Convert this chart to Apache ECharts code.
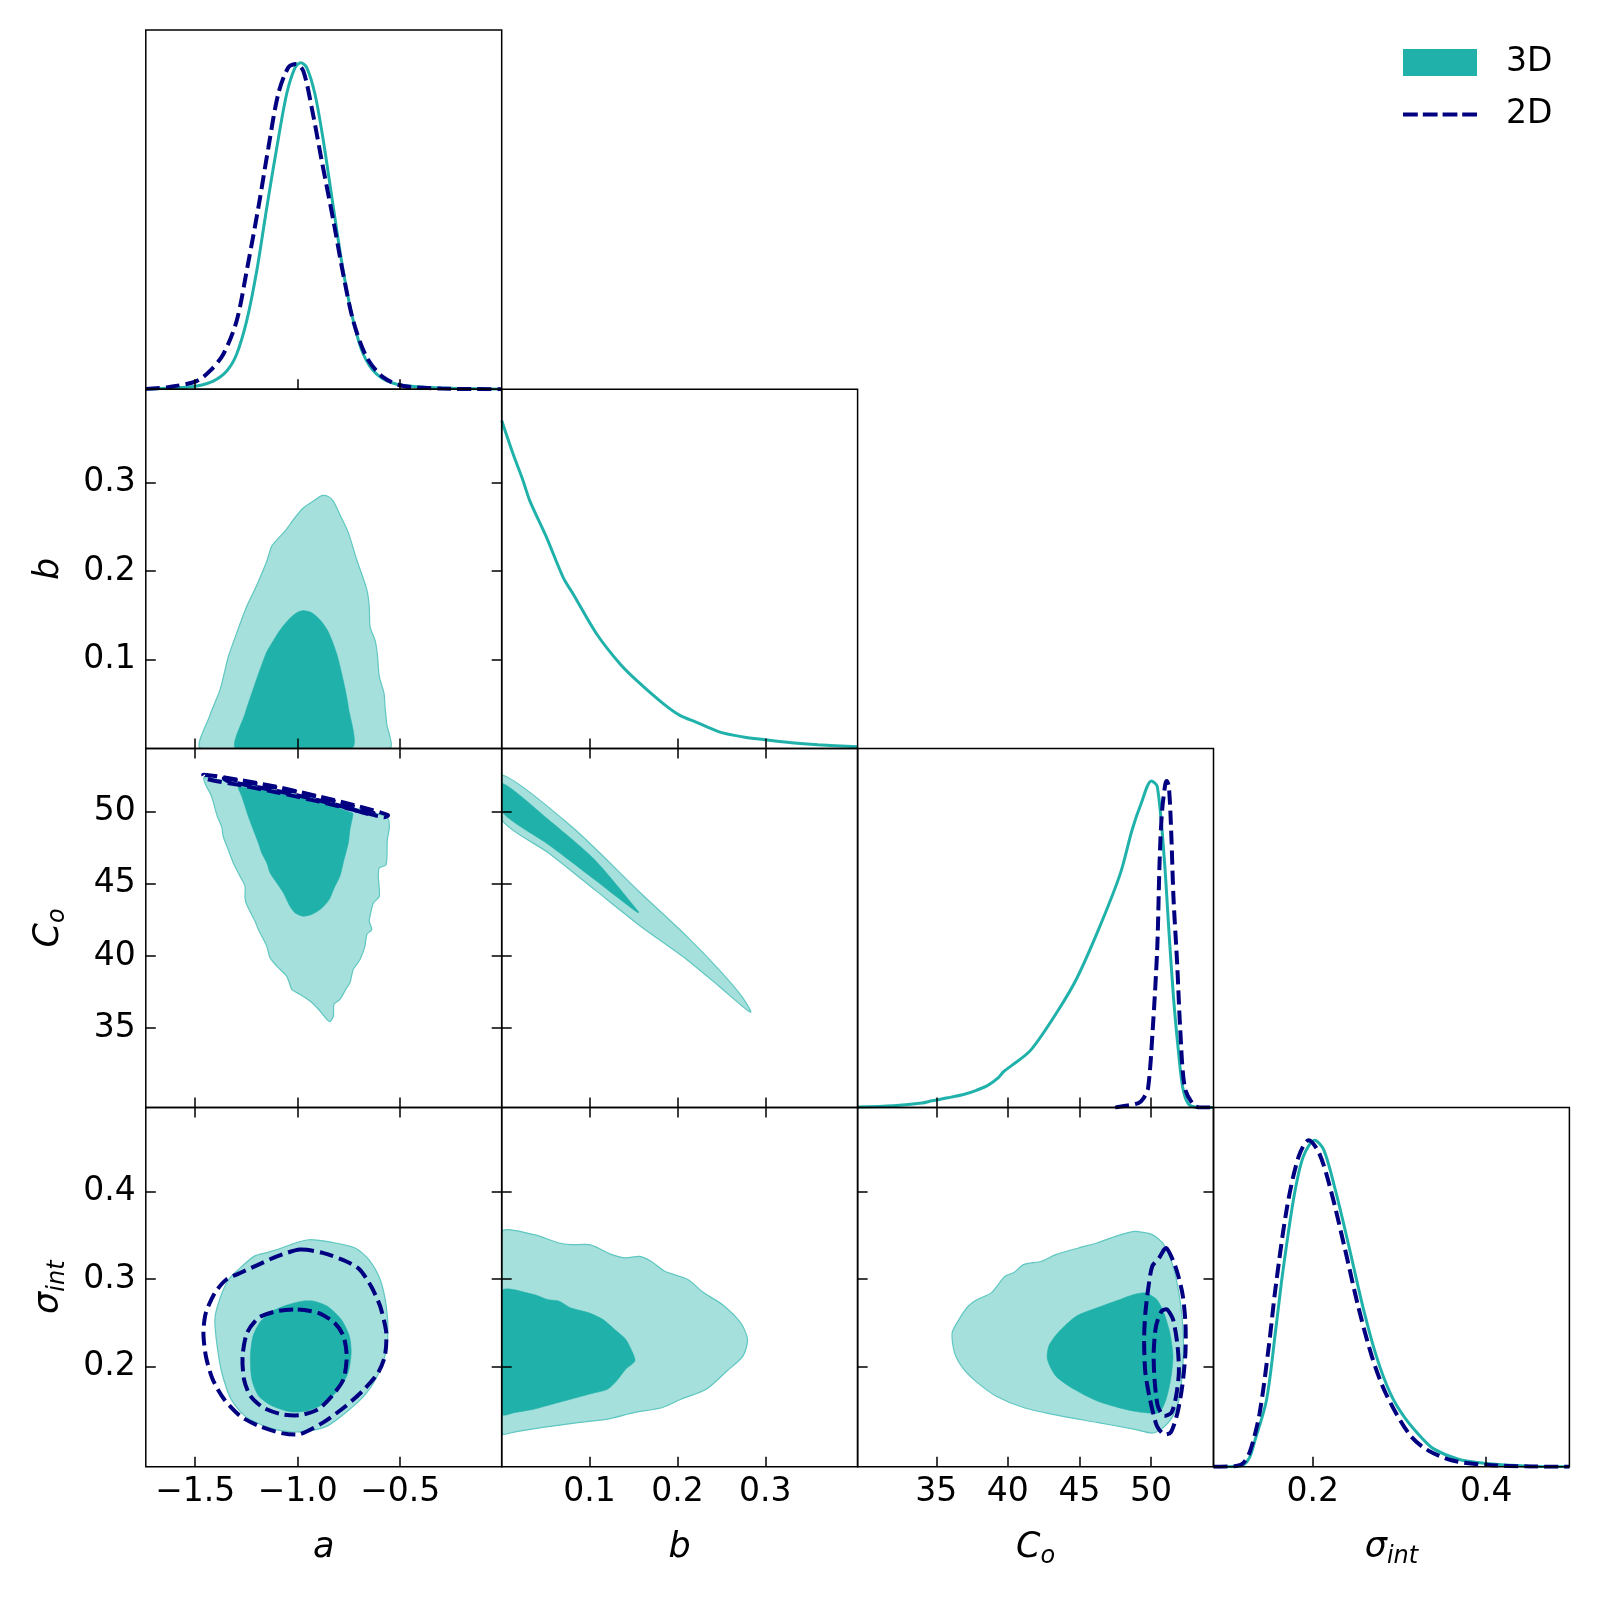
<!DOCTYPE html>
<html><head><meta charset="utf-8">
<script src="https://cdn.jsdelivr.net/npm/echarts@6/dist/echarts.min.js"></script>
<style>html,body{margin:0;padding:0;background:#fff}#c{width:1600px;height:1600px}</style>
</head><body><div id="c"></div>
<script>
// ---------- tick labels ----------
const aTicks = [-1.5, -1.0, -0.5];
const bTicks = [0.1, 0.2, 0.3];
const cTicks = [35, 40, 45, 50];
const sTicksX = [0.2, 0.4];
const sTicksY = [0.2, 0.3, 0.4];

// ---------- 1D marginals (normalised to peak = 1) ----------
const margA3D = [[-1.741,0],[-1.574,0.005],[-1.493,0.010],[-1.412,0.025],[-1.346,0.056],[-1.298,0.107],[-1.249,0.209],[-1.2,0.362],[-1.151,0.556],[-1.102,0.740],[-1.054,0.904],[-1.013,0.985],[-0.985,1.0],[-0.956,0.985],[-0.916,0.904],[-0.875,0.761],[-0.826,0.556],[-0.778,0.362],[-0.729,0.209],[-0.680,0.107],[-0.615,0.046],[-0.517,0.015],[-0.355,0.005],[-0.005,0]];
const margA2D = [[-1.741,0.001],[-1.623,0.007],[-1.493,0.025],[-1.428,0.056],[-1.363,0.107],[-1.298,0.209],[-1.249,0.362],[-1.192,0.556],[-1.143,0.740],[-1.095,0.904],[-1.046,0.985],[-1.008,0.996],[-0.973,0.975],[-0.932,0.863],[-0.883,0.70],[-0.826,0.516],[-0.778,0.352],[-0.729,0.209],[-0.663,0.097],[-0.582,0.036],[-0.485,0.010],[-0.3,0.002],[-0.005,0]];
const margB3D = [[0,1.004],[0.0129,0.902],[0.0243,0.820],[0.0319,0.759],[0.0509,0.647],[0.0699,0.524],[0.0813,0.473],[0.1079,0.351],[0.1345,0.259],[0.1535,0.208],[0.1838,0.137],[0.2028,0.101],[0.2218,0.080],[0.2484,0.050],[0.275,0.035],[0.2978,0.027],[0.33,0.017],[0.36,0.011],[0.405,0.005]];
const margC3D = [[29.5,0.002],[32,0.006],[34,0.014],[34.7,0.021],[35.8,0.03],[36.9,0.04],[37.8,0.053],[38.6,0.068],[39.3,0.09],[39.7,0.11],[40.3,0.13],[41.6,0.176],[43.53,0.299],[44.82,0.396],[46.42,0.554],[47.87,0.718],[48.68,0.85],[49.32,0.932],[50.03,1.0],[50.44,0.983],[50.92,0.768],[51.25,0.544],[51.57,0.34],[51.89,0.186],[52.21,0.064],[52.6,0.012],[53.2,0.001],[54.37,0]];
const margC2D = [[47.5,0],[47.84,0.003],[49.12,0.014],[49.5,0.03],[49.8,0.06],[50.12,0.237],[50.44,0.49],[50.6,0.749],[50.76,0.90],[50.99,0.988],[51.1,1.0],[51.25,0.983],[51.41,0.85],[51.57,0.646],[51.83,0.442],[52.05,0.237],[52.37,0.06],[52.99,0.008],[53.5,0],[54.37,0]];
const margS3D = [[0.0855,0],[0.11,0.001],[0.12,0.006],[0.127,0.028],[0.1333,0.081],[0.1466,0.204],[0.1572,0.418],[0.1652,0.592],[0.1783,0.827],[0.1889,0.949],[0.2022,1.0],[0.2128,0.97],[0.2261,0.847],[0.2419,0.673],[0.2578,0.49],[0.2737,0.336],[0.2896,0.224],[0.3054,0.153],[0.3266,0.086],[0.340,0.054],[0.368,0.023],[0.40,0.01],[0.45,0.002],[0.496,0]];
const margS2D = [[0.0855,0],[0.11,0.002],[0.12,0.012],[0.128,0.05],[0.1386,0.163],[0.1492,0.367],[0.1572,0.551],[0.1704,0.796],[0.1836,0.949],[0.1953,1.0],[0.2075,0.96],[0.2208,0.847],[0.2366,0.673],[0.2525,0.49],[0.2684,0.336],[0.2843,0.224],[0.3107,0.102],[0.33,0.055],[0.36,0.02],[0.40,0.006],[0.45,0.001],[0.496,0]];

// ---------- 2D contours (outer = 95%, inner = 68%) ----------
const ab3D95 = [[-1.472,0],[-1.428,0.0375],[-1.379,0.066],[-1.355,0.088],[-1.339,0.103],[-1.298,0.130],[-1.249,0.160],[-1.200,0.184],[-1.151,0.211],[-1.127,0.228],[-1.102,0.235],[-1.062,0.245],[-1.021,0.258],[-0.973,0.271],[-0.916,0.280],[-0.883,0.285],[-0.851,0.284],[-0.826,0.2785],[-0.794,0.2635],[-0.753,0.243],[-0.712,0.2127],[-0.663,0.179],[-0.651,0.160],[-0.647,0.137],[-0.623,0.122],[-0.612,0.107],[-0.607,0.092],[-0.602,0.081],[-0.579,0.062],[-0.574,0.047],[-0.566,0.028],[-0.553,0]];
const ab3D68 = [[-1.301,0],[-1.257,0.0394],[-1.208,0.0733],[-1.176,0.094],[-1.151,0.109],[-1.127,0.1185],[-1.086,0.1336],[-1.038,0.1468],[-1.005,0.153],[-0.973,0.1554],[-0.932,0.153],[-0.891,0.145],[-0.851,0.1316],[-0.810,0.107],[-0.778,0.077],[-0.753,0.047],[-0.737,0]];

const ac3D95 = [[-1.457,52.35],[-1.3,51.98],[-1.1,51.45],[-0.9,50.85],[-0.7,50.15],[-0.566,49.62],[-0.553,48.96],[-0.563,48.05],[-0.569,46.32],[-0.602,46.09],[-0.607,45.51],[-0.602,44.13],[-0.631,43.67],[-0.644,42.98],[-0.651,42.40],[-0.639,41.83],[-0.663,41.48],[-0.672,40.68],[-0.696,39.76],[-0.729,39.07],[-0.745,38.15],[-0.761,37.80],[-0.794,37.0],[-0.823,36.65],[-0.826,35.84],[-0.842,35.46],[-0.859,35.62],[-0.891,36.19],[-0.940,36.88],[-0.989,37.34],[-1.029,37.69],[-1.041,38.15],[-1.054,38.60],[-1.102,39.30],[-1.135,39.88],[-1.151,40.68],[-1.192,41.83],[-1.208,42.40],[-1.249,43.56],[-1.257,44.02],[-1.257,44.82],[-1.281,45.51],[-1.314,46.44],[-1.339,47.36],[-1.363,48.27],[-1.371,48.96],[-1.392,49.65],[-1.420,51.04],[-1.452,51.96]];
const ac3D68 = [[-1.290,51.73],[-1.086,51.27],[-0.907,50.69],[-0.732,49.89],[-0.732,49.65],[-0.745,48.74],[-0.753,47.82],[-0.778,46.44],[-0.794,45.51],[-0.818,44.82],[-0.842,44.02],[-0.859,43.67],[-0.891,43.21],[-0.932,42.87],[-0.973,42.75],[-1.013,42.98],[-1.038,43.44],[-1.070,44.36],[-1.102,45.05],[-1.135,45.75],[-1.151,46.44],[-1.176,47.13],[-1.192,47.82],[-1.217,48.74],[-1.241,49.65],[-1.257,50.35],[-1.273,51.04],[-1.290,51.62]];
const ac2D95 = [[-1.46,52.55],[-1.3,52.22],[-1.1,51.7],[-0.9,51.05],[-0.7,50.35],[-0.56,49.75],[-0.58,49.6],[-0.7,50.02],[-0.9,50.7],[-1.1,51.32],[-1.3,51.88],[-1.44,52.24]];
const ac2D68 = [[-1.36,52.3],[-1.2,51.9],[-1.0,51.35],[-0.8,50.62],[-0.63,49.9],[-0.65,49.8],[-0.8,50.42],[-1.0,51.12],[-1.2,51.7],[-1.34,52.1]];

const bc3D95 = [[0,52.53],[0.0795,48.96],[0.158,44.36],[0.2104,41.37],[0.247,39.07],[0.273,37.22],[0.2836,36.12],[0.2758,36.42],[0.247,37.92],[0.2104,39.76],[0.158,42.06],[0.1058,44.59],[0.0534,47.13],[0,49.43]];
const bc3D68 = [[0,51.96],[0.0534,49.43],[0.1058,46.66],[0.1554,43.09],[0.1554,42.98],[0.1423,43.56],[0.1058,45.28],[0.0534,47.70],[0,50.0]];

const as3D95 = [[-0.944,0.345],[-0.833,0.342],[-0.720,0.3356],[-0.653,0.3223],[-0.598,0.2995],[-0.568,0.269],[-0.560,0.2387],[-0.575,0.212],[-0.620,0.1855],[-0.676,0.1665],[-0.765,0.1476],[-0.855,0.1323],[-0.944,0.1266],[-1.034,0.1255],[-1.146,0.1305],[-1.258,0.1437],[-1.325,0.1627],[-1.370,0.193],[-1.393,0.2235],[-1.404,0.254],[-1.381,0.2767],[-1.337,0.2995],[-1.280,0.3128],[-1.213,0.326],[-1.146,0.3306],[-1.079,0.3356],[-1.012,0.3413]];
const as3D68 = [[-0.978,0.2748],[-0.922,0.2748],[-0.855,0.269],[-0.788,0.254],[-0.748,0.235],[-0.739,0.216],[-0.754,0.193],[-0.799,0.174],[-0.877,0.157],[-0.956,0.1494],[-1.034,0.1483],[-1.124,0.155],[-1.191,0.1665],[-1.224,0.1855],[-1.231,0.212],[-1.218,0.235],[-1.180,0.252],[-1.124,0.2634],[-1.045,0.271]];
const as2D95 = [[-0.989,0.3337],[-0.878,0.330],[-0.765,0.3204],[-0.698,0.311],[-0.642,0.2918],[-0.598,0.269],[-0.568,0.2387],[-0.575,0.212],[-0.608,0.193],[-0.676,0.174],[-0.765,0.155],[-0.877,0.136],[-0.989,0.1228],[-1.079,0.124],[-1.191,0.1323],[-1.281,0.1437],[-1.359,0.1627],[-1.415,0.1855],[-1.448,0.212],[-1.460,0.2387],[-1.448,0.2615],[-1.404,0.2843],[-1.348,0.2995],[-1.281,0.307],[-1.191,0.3166],[-1.101,0.326]];
const as2D68 = [[-1.000,0.2653],[-0.900,0.2615],[-0.821,0.2501],[-0.777,0.235],[-0.761,0.212],[-0.777,0.1855],[-0.833,0.1665],[-0.900,0.1513],[-0.989,0.1445],[-1.079,0.1456],[-1.169,0.1533],[-1.231,0.1665],[-1.262,0.1855],[-1.269,0.212],[-1.247,0.2387],[-1.191,0.2558],[-1.101,0.2634]];

const bs3D95 = [[0,0.3534],[0.0365,0.3508],[0.0653,0.3413],[0.0784,0.3394],[0.0993,0.3394],[0.1097,0.3356],[0.1254,0.328],[0.1412,0.3242],[0.1568,0.326],[0.170,0.3204],[0.1856,0.309],[0.2118,0.2995],[0.230,0.2843],[0.251,0.271],[0.272,0.250],[0.2798,0.2311],[0.2745,0.212],[0.2563,0.195],[0.2327,0.174],[0.204,0.1627],[0.183,0.1533],[0.1516,0.1476],[0.1202,0.140],[0.0889,0.1362],[0.047,0.1305],[0.0156,0.1255],[0,0.124]];
const bs3D68 = [[0,0.2862],[0.0365,0.2824],[0.0522,0.2767],[0.0653,0.2748],[0.0784,0.2672],[0.0993,0.2615],[0.115,0.254],[0.1307,0.2406],[0.1412,0.2311],[0.149,0.216],[0.1516,0.2064],[0.1412,0.197],[0.1307,0.1836],[0.1202,0.174],[0.0993,0.1684],[0.0784,0.1627],[0.0574,0.157],[0.0365,0.1513],[0.0156,0.1476],[0,0.1456]];

const cs3D95 = [[48.96,0.3545],[50.09,0.3508],[50.90,0.3394],[51.54,0.3147],[51.95,0.2843],[52.19,0.254],[52.28,0.2235],[52.19,0.193],[52.02,0.1665],[51.54,0.1437],[50.74,0.1286],[50.09,0.124],[48.80,0.1286],[46.23,0.1362],[43.66,0.1437],[41.09,0.1533],[39.16,0.1665],[37.87,0.1817],[36.91,0.197],[36.27,0.216],[36.11,0.2387],[36.59,0.254],[37.23,0.269],[37.87,0.2767],[38.84,0.2843],[39.80,0.3032],[40.45,0.3078],[41.09,0.3166],[42.37,0.3204],[43.34,0.328],[44.94,0.3356],[46.23,0.3413],[47.52,0.3489],[48.48,0.3534]];
const cs3D68 = [[49.61,0.2843],[50.41,0.2767],[50.90,0.2615],[51.32,0.2387],[51.54,0.212],[51.38,0.1855],[51.06,0.1627],[50.57,0.1476],[49.45,0.1476],[48.17,0.1513],[46.23,0.1608],[44.63,0.174],[43.34,0.1893],[42.76,0.2083],[42.86,0.2235],[43.50,0.2387],[44.79,0.2577],[46.23,0.2672],[47.84,0.2767],[48.80,0.2824]];
const cs2D95 = [[51.06,0.3356],[51.70,0.3147],[52.19,0.2843],[52.41,0.250],[52.41,0.216],[52.19,0.178],[51.86,0.1476],[51.38,0.1248],[50.90,0.1228],[50.41,0.1323],[49.93,0.1627],[49.61,0.193],[49.52,0.2311],[49.61,0.2615],[49.83,0.2918],[50.09,0.3147],[50.57,0.3242]];
const cs2D68 = [[51.12,0.2653],[51.54,0.254],[51.86,0.2235],[51.95,0.193],[51.76,0.1665],[51.44,0.1476],[50.90,0.1437],[50.48,0.155],[50.25,0.1855],[50.19,0.216],[50.35,0.246],[50.74,0.2634]];

// ---------- build ----------
const GL = 145.8, GW = 355.9, GT = 30, GH = 359.2;
const FONT = 'DejaVu Sans';
const TEAL = '#20b2aa', LIGHT = '#a6e0dd', EDGE = '#5fc7c0', NAVY = '#000080';
const fmtA = v => (v < 0 ? '\u2212' : '') + Math.abs(v).toFixed(1);
const vars = {
  a: { range: [-1.741, -0.005], xt: aTicks, yt: null, fmt: fmtA, name: '{i|a}' },
  b: { range: [0, 0.405], xt: bTicks, yt: bTicks, fmt: v => v.toFixed(1), name: '{i|b}' },
  c: { range: [29.5, 54.37], xt: cTicks, yt: cTicks, fmt: v => String(v), name: '{i|C}{sub|o}' },
  s: { range: [0.0855, 0.496], xt: sTicksX, yt: sTicksY, fmt: v => v.toFixed(1), name: '{i|\u03c3}{sub|int}' }
};
const order = ['a', 'b', 'c', 's'];
const nameRich = {
  i: { fontFamily: FONT, fontStyle: 'italic', fontSize: 35, lineHeight: 42, verticalAlign: 'middle', color: '#000' },
  sub: { fontFamily: FONT, fontStyle: 'italic', fontSize: 24, lineHeight: 24, verticalAlign: 'bottom', color: '#000' }
};
const tickStyle = ticks => ({ show: true, inside: true, length: 10, customValues: ticks, lineStyle: { color: '#000', width: 1.5 } });
function axisCommon(g, v, ticks, pos, labels, gap) {
  return {
    type: 'value', gridIndex: g, position: pos, min: v.range[0], max: v.range[1], z: 5,
    axisLine: { show: false }, splitLine: { show: false },
    axisTick: tickStyle(ticks),
    axisLabel: { show: labels, customValues: ticks, formatter: v.fmt, margin: pos === 'bottom' ? 9 : 10, fontSize: 33, fontFamily: FONT, color: '#000' },
    name: labels ? v.name : '', nameLocation: 'middle', nameGap: gap,
    nameTextStyle: { verticalAlign: 'middle', align: 'center', rich: nameRich }
  };
}
const grids = [], xAxes = [], yAxes = [], series = [];
const P = {};
for (let r = 0; r < 4; r++) {
  for (let c = 0; c <= r; c++) {
    const g = grids.length;
    grids.push({ left: GL + c * GW, top: GT + r * GH, width: GW, height: GH, show: true, borderColor: '#000', borderWidth: 1.5, z: 5, outerBoundsMode: 'none', containLabel: false });
    const xv = vars[order[c]];
    const xi = xAxes.length;
    xAxes.push(axisCommon(g, xv, xv.xt, 'bottom', r === 3, 81));
    if (c < r) xAxes.push(axisCommon(g, xv, xv.xt, 'top', false, 0));
    const yi = yAxes.length;
    if (c === r) {
      yAxes.push({ type: 'value', gridIndex: g, min: 0, max: 1.1, show: false });
    } else {
      const yv = vars[order[r]];
      yAxes.push(axisCommon(g, yv, yv.yt, 'left', c === 0, 97));
      yAxes.push(axisCommon(g, yv, yv.yt, 'right', false, 0));
    }
    P[r + '_' + c] = { xi, yi };
  }
}
function polyRender(points, style) {
  return function (params, api) {
    if (params.dataIndex !== 0) return null;
    const cs = params.coordSys;
    return {
      type: 'polygon',
      shape: { points: points.map(p => api.coord(p)), smooth: 0.25 },
      style: style,
      clipPath: { type: 'rect', shape: { x: cs.x, y: cs.y, width: cs.width, height: cs.height } }
    };
  };
}
function addFill(key, pts, inner) {
  series.push({
    type: 'custom', name: '3D', xAxisIndex: P[key].xi, yAxisIndex: P[key].yi, data: pts, silent: true,
    itemStyle: { color: TEAL },
    renderItem: polyRender(pts, inner ? { fill: TEAL, stroke: TEAL, lineWidth: 0.5 } : { fill: LIGHT, stroke: EDGE, lineWidth: 1.2 })
  });
}
function addLoop(key, pts) {
  series.push({
    type: 'custom', name: '2D', xAxisIndex: P[key].xi, yAxisIndex: P[key].yi, data: pts, silent: true,
    itemStyle: { color: NAVY },
    renderItem: polyRender(pts, { fill: 'none', stroke: NAVY, lineWidth: 4, lineDash: [14, 6] })
  });
}
function addMarg(key, pts, is2D) {
  series.push({
    type: 'line', name: is2D ? '2D' : '3D', xAxisIndex: P[key].xi, yAxisIndex: P[key].yi, data: pts,
    symbol: 'none', showSymbol: false, smooth: 0.3, silent: true, z: 3,
    itemStyle: { color: is2D ? NAVY : TEAL },
    lineStyle: { color: is2D ? NAVY : TEAL, width: is2D ? 4 : 3, type: is2D ? [14, 6] : 'solid' }
  });
}
addMarg('0_0', margA3D, false); addMarg('0_0', margA2D, true);
addFill('1_0', ab3D95, false); addFill('1_0', ab3D68, true);
addMarg('1_1', margB3D, false);
addFill('2_0', ac3D95, false); addFill('2_0', ac3D68, true); addLoop('2_0', ac2D95); addLoop('2_0', ac2D68);
addFill('2_1', bc3D95, false); addFill('2_1', bc3D68, true);
addMarg('2_2', margC3D, false); addMarg('2_2', margC2D, true);
addFill('3_0', as3D95, false); addFill('3_0', as3D68, true); addLoop('3_0', as2D95); addLoop('3_0', as2D68);
addFill('3_1', bs3D95, false); addFill('3_1', bs3D68, true);
addFill('3_2', cs3D95, false); addFill('3_2', cs3D68, true); addLoop('3_2', cs2D95); addLoop('3_2', cs2D68);
addMarg('3_3', margS3D, false); addMarg('3_3', margS2D, true);

// dashed legend icon: four 14.8 x 4 dashes in a 74 x 27 box (zero-area corner marks keep the box size)
const dashIcon = 'path://M0,0L0.01,0L0.01,0.01Z M74,27L73.99,27L73.99,26.99Z ' +
  'M0,11.5h14.8v4h-14.8Z M19.8,11.5h14.8v4h-14.8Z M39.6,11.5h14.8v4h-14.8Z M59.2,11.5h14.8v4h-14.8Z';

const chart = echarts.init(document.getElementById('c'), null, { renderer: 'canvas' });
chart.setOption({
  backgroundColor: '#fff',
  animation: false,
  grid: grids, xAxis: xAxes, yAxis: yAxes,
  legend: {
    show: true, orient: 'vertical', left: 1403, top: 46, padding: 0,
    itemWidth: 74, itemHeight: 27, itemGap: 19, selectedMode: false,
    textStyle: { fontSize: 33, fontFamily: FONT, color: '#000', padding: [0, 0, 0, 24] },
    data: [
      { name: '3D', icon: 'rect', itemStyle: { color: TEAL, borderWidth: 0 } },
      { name: '2D', icon: dashIcon, itemStyle: { color: NAVY, borderWidth: 0 }, lineStyle: { width: 0 } }
    ]
  },
  series: series
});
</script></body></html>
